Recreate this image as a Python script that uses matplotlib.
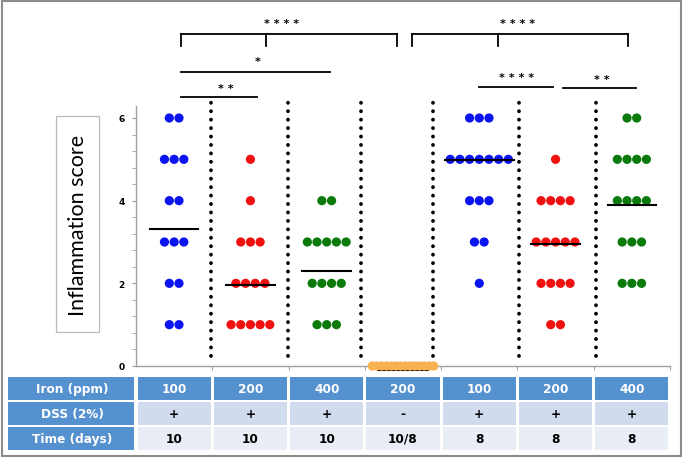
import numpy as np
import matplotlib
matplotlib.use("Agg")
import matplotlib.pyplot as plt
from matplotlib.patches import Rectangle

# scores per mouse, one list per group
g1 = [6, 6, 5, 5, 5, 4, 4, 3, 3, 3, 2, 2, 1, 1]
g2 = [5, 4, 3, 3, 3, 2, 2, 2, 2, 1, 1, 1, 1, 1]
g3 = [4, 4, 3, 3, 3, 3, 3, 2, 2, 2, 2, 1, 1, 1]
g4 = [0] * 14
g5 = [6, 6, 6, 5, 5, 5, 5, 5, 5, 5, 4, 4, 4, 3, 3, 2]
g6 = [5, 4, 4, 4, 4, 3, 3, 3, 3, 3, 2, 2, 2, 2, 1, 1]
g7 = [6, 6, 5, 5, 5, 5, 4, 4, 4, 4, 3, 3, 3, 2, 2, 2]
groups = [g1, g2, g3, g4, g5, g6, g7]
means = [3.32, 1.96, 2.30, -0.10, 4.99, 2.95, 3.90]
colors = ['#0a14f0', '#f01010', '#0a7a0a', '#f7b151', '#0a14f0', '#f01010', '#0a7a0a']

row_names = ['Iron (ppm)', 'DSS (2%)', 'Time (days)']
iron = ['100', '200', '400', '200', '100', '200', '400']
dss = ['+', '+', '+', '-', '+', '+', '+']
days = ['10', '10', '10', '10/8', '8', '8', '8']

fig = plt.figure(figsize=(6.84, 4.6), dpi=100)

# ---- main dot plot
ax = fig.add_axes([136 / 684, 93 / 460, 534 / 684, 260.4 / 460])
ax.set_xlim(-0.5, 6.5)
ax.set_ylim(0, 6.3)

for i, (vals, c) in enumerate(zip(groups, colors)):
    levels, counts = np.unique(vals, return_counts=True)
    dx = 0.127 if counts.max() < 10 else 0.062   # crowded rows get squeezed
    for lv, k in zip(levels, counts):
        xs = i + (np.arange(k) - (k - 1) / 2) * dx
        ax.scatter(xs, np.full(k, lv), s=44, color=c, edgecolors='none',
                   zorder=3, clip_on=False)
    half = max(0.315, (counts.max() - 1) * 0.127 / 2 + 0.07) if counts.max() < 10 else 0.33
    ax.plot([i - half, i + half], [means[i]] * 2, color='black', lw=1.5,
            zorder=4 if i != 3 else 2, clip_on=False)

# dotted separators
for xs in [0.48, 1.49, 2.45, 3.39, 4.52, 5.53]:
    ax.plot([xs, xs], [0.25, 6.45], color='black', lw=2.7,
            linestyle=(0, (0.05, 2.2)), dash_capstyle='round',
            clip_on=False, zorder=2)

for s in ['top', 'right']:
    ax.spines[s].set_visible(False)
for s in ['left', 'bottom']:
    ax.spines[s].set_color('#a0a0a0')
    ax.spines[s].set_linewidth(1.0)

ax.set_yticks([0, 2, 4, 6])
ax.set_yticks(np.arange(0, 6.3, 0.4), minor=True)
ax.tick_params(axis='y', which='both', length=3, color='#a0a0a0', labelsize=6.5, pad=5)
for lab in ax.get_yticklabels():
    lab.set_fontweight('bold')
ax.set_xticks(np.arange(0.5, 7, 1))
ax.set_xticklabels([])
ax.tick_params(axis='x', length=3, color='#a0a0a0')

# significance brackets
def bracket(x0, x1, y, label, ty, tx=None, mid=None):
    ax.plot([x0, x1], [y, y], color='black', lw=1.3, clip_on=False)
    if mid is not None:
        for xx in (x0, mid, x1):
            ax.plot([xx, xx], [y, y - 0.3], color='black', lw=1.3, clip_on=False)
    ax.text((x0 + x1) / 2 if tx is None else tx, ty, label, ha='center', va='center',
            fontsize=8, fontweight='bold', clip_on=False)

bracket(0.09, 2.92, 8.03, '* * * *', 8.3, tx=1.41, mid=1.2)
bracket(3.12, 5.95, 8.03, '* * * *', 8.3, tx=4.5, mid=4.25)
bracket(0.09, 2.04, 7.11, '*', 7.38, tx=1.09)
bracket(0.09, 1.09, 6.51, '* *', 6.72, tx=0.68)
bracket(4.0, 4.97, 6.75, '* * * *', 6.99, tx=4.49)
bracket(5.1, 6.05, 6.73, '* *', 6.95, tx=5.6)

# y label in a box
fig.patches.append(Rectangle((56 / 684, 1 - 333 / 460), 43 / 684, 216 / 460,
                             transform=fig.transFigure, fc='white',
                             ec='#bbbbbb', lw=0.9))
fig.text(78 / 684, 1 - 225 / 460, 'Inflammation score', rotation=90, ha='center',
         va='center', fontsize=15.5, family='Lato')

# ---- table below
tax = fig.add_axes([8 / 684, 8 / 460, 662 / 684, 75 / 460])
x_left = -0.5 - 128 / 76.3
tax.set_xlim(x_left, 6.5)
tax.set_ylim(0, 3)
tax.axis('off')

blue = '#5590cf'
row_bg = [blue, '#d0dcee', '#e9eef6']
rows = [iron, dss, days]
gx = 0.02
gy = 0.05
for r, (name, vals) in enumerate(zip(row_names, rows)):
    y0 = 2 - r
    tax.add_patch(Rectangle((x_left, y0 + gy), -0.5 - x_left - gx, 1 - 2 * gy,
                            fc=blue, ec='none'))
    tax.text((x_left - 0.5) / 2, y0 + 0.5, name, ha='center', va='center',
             color='white', fontsize=8.7, fontweight='bold')
    for i, v in enumerate(vals):
        tax.add_patch(Rectangle((i - 0.5 + gx, y0 + gy), 1 - 2 * gx, 1 - 2 * gy,
                                fc=row_bg[r], ec='none'))
        tax.text(i, y0 + 0.5, v, ha='center', va='center',
                 color='white' if r == 0 else 'black', fontsize=8.7, fontweight='bold')

# outer frame
fig.patches.append(Rectangle((2 / 684, 3 / 460), 679 / 684, 455 / 460,
                             transform=fig.transFigure, fill=False,
                             ec='#8c8c8c', lw=1.5))

fig.savefig('out.png', dpi=100)
